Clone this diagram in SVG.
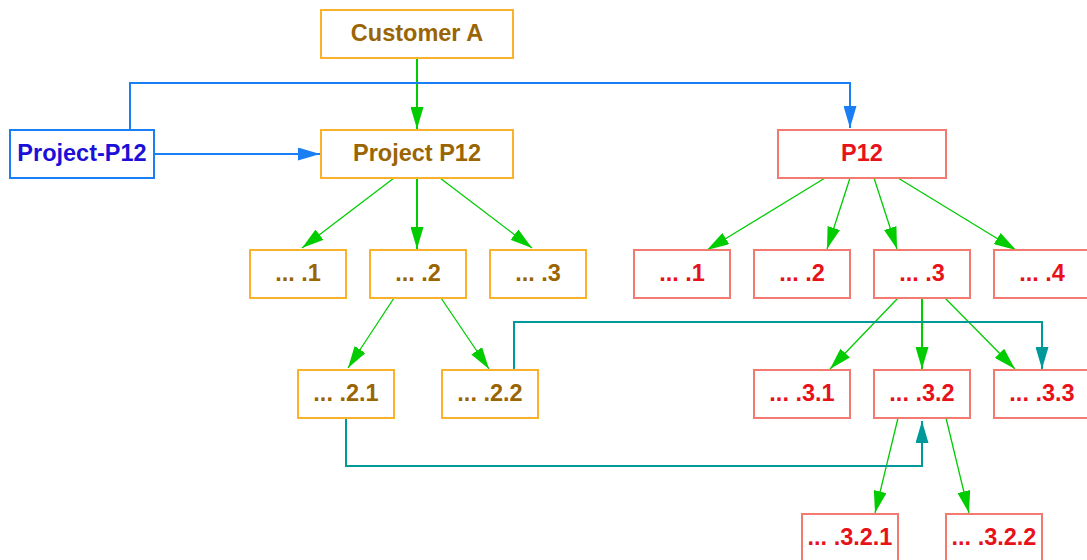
<svg xmlns="http://www.w3.org/2000/svg" width="1087" height="560" viewBox="0 0 1087 560">
<style>
text{font-family:"Liberation Sans",Arial,sans-serif;font-weight:bold;font-size:23.5px;text-anchor:middle}
.o rect{fill:#fff;stroke:#fbb12a;stroke-width:2}
.o text{fill:#9a6503}
.r rect{fill:#fff;stroke:#f47a70;stroke-width:2}
.r text{fill:#e8121a}
.b rect{fill:#fff;stroke:#1a7ef5;stroke-width:2}
.b text{fill:#1c10d8}
.g{stroke:#00cc00;fill:none;stroke-width:1.3}
.gv{stroke:#00cc00;fill:none;stroke-width:2}
.bl{stroke:#1a7ef5;fill:none;stroke-width:2}
.t{stroke:#009999;fill:none;stroke-width:2}
</style>
<defs>
<marker id="ag" viewBox="0 0 22 13" refX="22" refY="6.5" markerWidth="22" markerHeight="13" markerUnits="userSpaceOnUse" orient="auto"><path d="M0,0L22,6.5L0,13z" fill="#00cc00"/></marker>
<marker id="ab" viewBox="0 0 22 13" refX="22" refY="6.5" markerWidth="22" markerHeight="13" markerUnits="userSpaceOnUse" orient="auto"><path d="M0,0L22,6.5L0,13z" fill="#1a7ef5"/></marker>
<marker id="at" viewBox="0 0 22 13" refX="22" refY="6.5" markerWidth="22" markerHeight="13" markerUnits="userSpaceOnUse" orient="auto"><path d="M0,0L22,6.5L0,13z" fill="#009999"/></marker>
</defs>
<g id="connectors">
<path class="gv" d="M417,58V129" marker-end="url(#ag)"/>
<path class="bl" d="M154,154H320" marker-end="url(#ab)"/>
<path class="bl" d="M130,130V83H850V128" marker-end="url(#ab)"/>
<path class="g" d="M394,178L302,248" marker-end="url(#ag)"/>
<path class="gv" d="M417,178V249" marker-end="url(#ag)"/>
<path class="g" d="M440,178L532,248" marker-end="url(#ag)"/>
<path class="g" d="M394,298L348,368" marker-end="url(#ag)"/>
<path class="g" d="M441,298L489,369" marker-end="url(#ag)"/>
<path class="g" d="M825,178L707,250" marker-end="url(#ag)"/>
<path class="g" d="M850,178L827,249" marker-end="url(#ag)"/>
<path class="g" d="M874,178L897,249" marker-end="url(#ag)"/>
<path class="g" d="M898,178L1016,250" marker-end="url(#ag)"/>
<path class="g" d="M898,298L830,369" marker-end="url(#ag)"/>
<path class="gv" d="M922,298V369" marker-end="url(#ag)"/>
<path class="g" d="M945,298L1015,369" marker-end="url(#ag)"/>
<path class="g" d="M898,418L875,513" marker-end="url(#ag)"/>
<path class="g" d="M946,418L969,513" marker-end="url(#ag)"/>
<path class="t" d="M514,370V322H1042V369" marker-end="url(#at)"/>
<path class="t" d="M346,418V466H922V421" marker-end="url(#at)"/>
</g>
<g id="customerA" class="o"><rect x="321" y="10" width="192" height="48"/><text x="417" y="40.5">Customer A</text></g>
<g id="projectP12dash" class="b"><rect x="10" y="130" width="144" height="48"/><text x="82" y="160.5">Project-P12</text></g>
<g id="projectP12" class="o"><rect x="321" y="130" width="192" height="48"/><text x="417" y="160.5">Project P12</text></g>
<g id="p12" class="r"><rect x="778" y="130" width="168" height="48"/><text x="862" y="160.5">P12</text></g>
<g id="o1" class="o"><rect x="250" y="250" width="96" height="48"/><text x="298" y="280.5">... .1</text></g>
<g id="o2" class="o"><rect x="370" y="250" width="96" height="48"/><text x="418" y="280.5">... .2</text></g>
<g id="o3" class="o"><rect x="490" y="250" width="96" height="48"/><text x="538" y="280.5">... .3</text></g>
<g id="o21" class="o"><rect x="298" y="370" width="96" height="48"/><text x="346" y="400.5">... .2.1</text></g>
<g id="o22" class="o"><rect x="442" y="370" width="96" height="48"/><text x="490" y="400.5">... .2.2</text></g>
<g id="r1" class="r"><rect x="634" y="250" width="96" height="48"/><text x="682" y="280.5">... .1</text></g>
<g id="r2" class="r"><rect x="754" y="250" width="96" height="48"/><text x="802" y="280.5">... .2</text></g>
<g id="r3" class="r"><rect x="874" y="250" width="96" height="48"/><text x="922" y="280.5">... .3</text></g>
<g id="r4" class="r"><rect x="994" y="250" width="96" height="48"/><text x="1042" y="280.5">... .4</text></g>
<g id="r31" class="r"><rect x="754" y="370" width="96" height="48"/><text x="802" y="400.5">... .3.1</text></g>
<g id="r32" class="r"><rect x="874" y="370" width="96" height="48"/><text x="922" y="400.5">... .3.2</text></g>
<g id="r33" class="r"><rect x="994" y="370" width="96" height="48"/><text x="1042" y="400.5">... .3.3</text></g>
<g id="r321" class="r"><rect x="802" y="514" width="96" height="48"/><text x="850" y="544.5">... .3.2.1</text></g>
<g id="r322" class="r"><rect x="946" y="514" width="96" height="48"/><text x="994" y="544.5">... .3.2.2</text></g>
</svg>
